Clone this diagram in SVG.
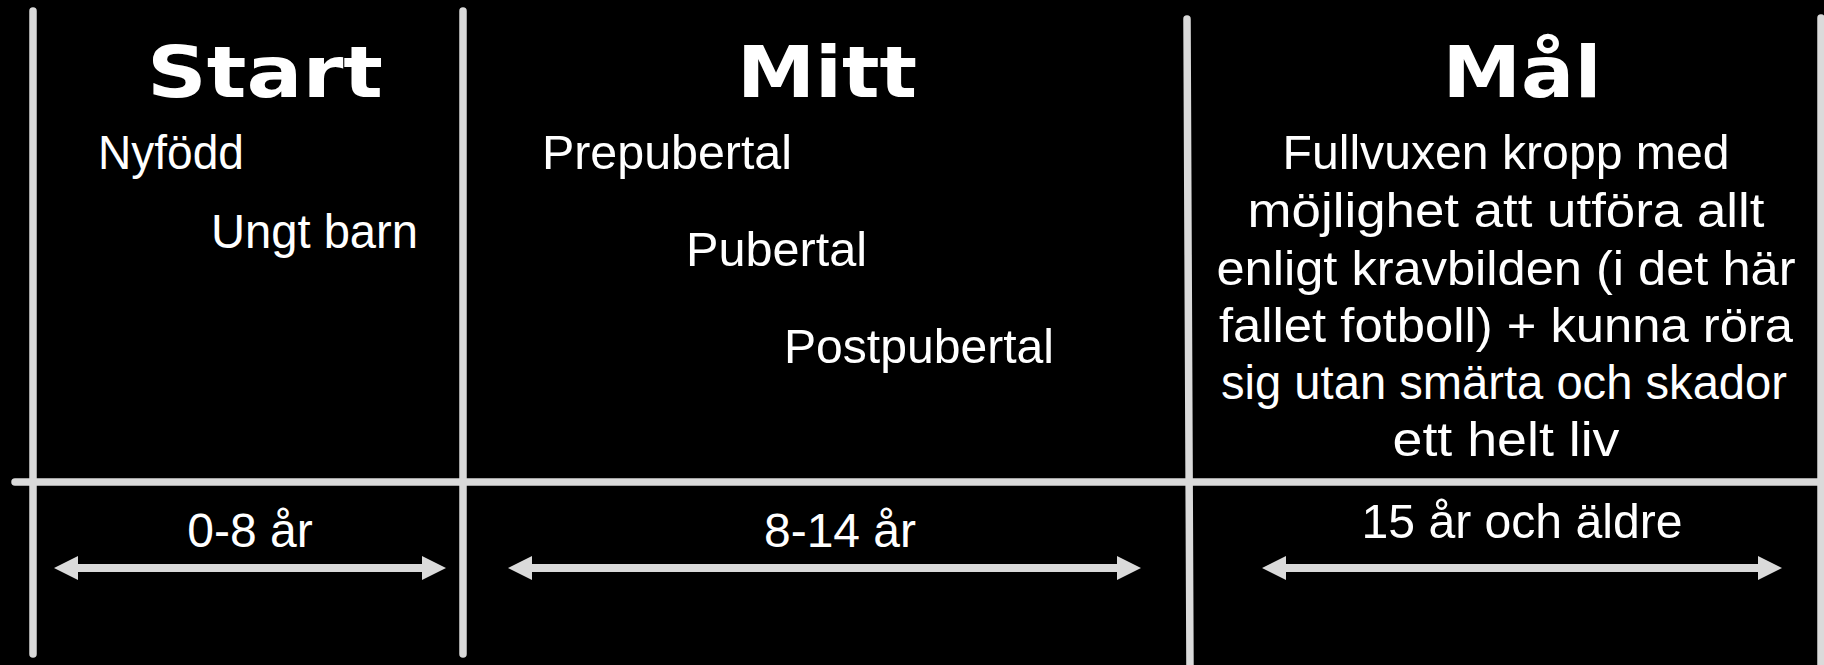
<svg xmlns="http://www.w3.org/2000/svg" width="1824" height="665" viewBox="0 0 1824 665">
  <style>
    .ln { stroke: #dadada; stroke-width: 7.5; stroke-linecap: round; fill: none; }
    .arr { fill: #dadada; }
    .hd { font-family: "DejaVu Sans", "Liberation Sans", sans-serif; font-weight: bold; font-size: 72px; fill: #ffffff; text-anchor: middle; }
    .tx { font-family: "Liberation Sans", Arial, sans-serif; font-size: 48px; fill: #ffffff; }
    .c { text-anchor: middle; }
  </style>
  <rect x="0" y="0" width="1824" height="665" fill="#000000"/>
  <g id="connectors">
    <line class="ln" x1="33" y1="11" x2="33" y2="654"/>
    <line class="ln" x1="463" y1="11" x2="463" y2="654"/>
    <line class="ln" x1="1187" y1="19" x2="1190" y2="670"/>
    <line class="ln" x1="1821" y1="18" x2="1821" y2="670"/>
    <line class="ln" x1="15" y1="482" x2="1830" y2="482"/>
    <polygon class="arr" points="54,568 78,556 78,564 422,564 422,556 446,568 422,580 422,572 78,572 78,580"/>
    <polygon class="arr" points="508,568 532,556 532,564 1117,564 1117,556 1141,568 1117,580 1117,572 532,572 532,580"/>
    <polygon class="arr" points="1262,568 1286,556 1286,564 1758,564 1758,556 1782,568 1758,580 1758,572 1286,572 1286,580"/>
  </g>
  <g id="start">
    <text class="hd" x="265" y="97" textLength="236" lengthAdjust="spacingAndGlyphs">Start</text>
    <text class="tx" x="98" y="169" textLength="146" lengthAdjust="spacingAndGlyphs">Nyfödd</text>
    <text class="tx" x="211" y="248" textLength="207" lengthAdjust="spacingAndGlyphs">Ungt barn</text>
    <text class="tx c" x="250" y="547">0-8 år</text>
  </g>
  <g id="mitt">
    <text class="hd" x="827" y="97" textLength="180" lengthAdjust="spacingAndGlyphs">Mitt</text>
    <text class="tx" x="542" y="169" textLength="250" lengthAdjust="spacingAndGlyphs">Prepubertal</text>
    <text class="tx" x="686" y="266" textLength="181" lengthAdjust="spacingAndGlyphs">Pubertal</text>
    <text class="tx" x="784" y="363" textLength="270" lengthAdjust="spacingAndGlyphs">Postpubertal</text>
    <text class="tx c" x="840" y="547">8-14 år</text>
  </g>
  <g id="mal">
    <text class="hd" x="1522" y="97" textLength="159" lengthAdjust="spacingAndGlyphs">Mål</text>
    <text class="tx c" x="1506" y="169" textLength="447" lengthAdjust="spacingAndGlyphs">Fullvuxen kropp med</text>
    <text class="tx c" x="1506" y="227" textLength="517" lengthAdjust="spacingAndGlyphs">möjlighet att utföra allt</text>
    <text class="tx c" x="1506" y="285" textLength="579" lengthAdjust="spacingAndGlyphs">enligt kravbilden (i det här</text>
    <text class="tx c" x="1506" y="342" textLength="574" lengthAdjust="spacingAndGlyphs">fallet fotboll) + kunna röra</text>
    <text class="tx c" x="1504" y="399" textLength="566" lengthAdjust="spacingAndGlyphs">sig utan smärta och skador</text>
    <text class="tx c" x="1506" y="456" textLength="227" lengthAdjust="spacingAndGlyphs">ett helt liv</text>
    <text class="tx c" x="1522" y="538" textLength="321" lengthAdjust="spacingAndGlyphs">15 år och äldre</text>
  </g>
</svg>
